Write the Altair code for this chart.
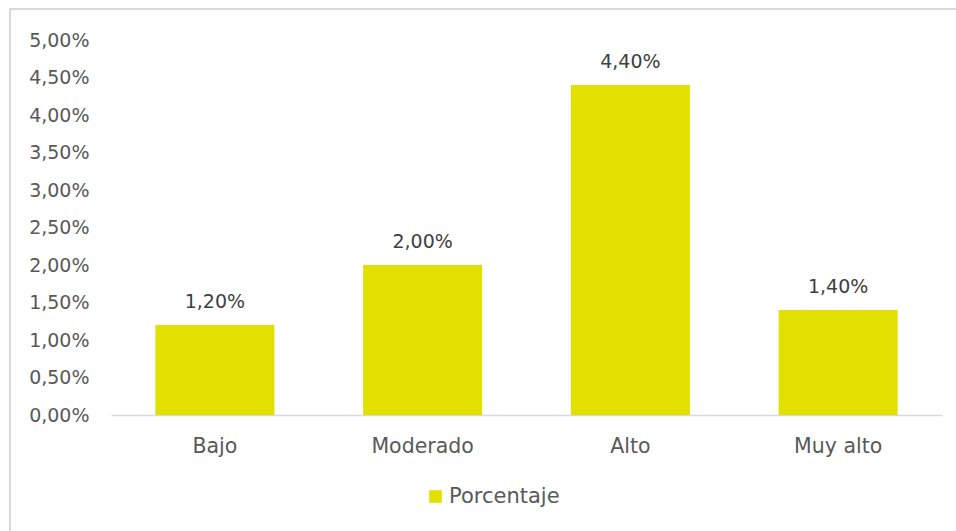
import altair as alt
import pandas as pd

categories = ["Bajo", "Moderado", "Alto", "Muy alto"]
values = [0.012, 0.020, 0.044, 0.014]
series_name = "Porcentaje"
y_ticks = [0, 0.005, 0.01, 0.015, 0.02, 0.025, 0.03, 0.035, 0.04, 0.045, 0.05]

df = pd.DataFrame({"cat": categories, "val": values, "serie": [series_name] * 4})

FONT = "DejaVu Sans"
W, H = 831, 375

y_enc = alt.Y("val:Q", title=None,
              scale=alt.Scale(domain=[0, 0.05], nice=False),
              axis=alt.Axis(values=y_ticks, grid=False, domain=False, ticks=False,
                            labelOverlap=False, labelPadding=22, labelFont=FONT,
                            labelFontSize=19, labelColor="#595959",
                            labelExpr="replace(format(datum.value, '.2%'), '.', ',')"))

base = alt.Chart(df).encode(
    x=alt.X("cat:N", sort=categories, title=None,
            scale=alt.Scale(paddingInner=0.427, paddingOuter=0.2135),
            axis=alt.Axis(labelAngle=0, ticks=False, domainColor="#D9D9D9",
                          domainWidth=1.5, labelPadding=21, labelFont=FONT,
                          labelFontSize=20.5, labelColor="#595959")),
    y=y_enc,
)

bars = base.mark_bar(color="#E1E000").encode(
    color=alt.Color("serie:N", scale=alt.Scale(range=["#E1E000"]), title=None,
                    legend=alt.Legend(orient="none", legendX=314, legendY=446,
                                      symbolType="square", symbolSize=160,
                                      symbolStrokeWidth=0, labelFont=FONT,
                                      labelFontSize=21, labelColor="#595959",
                                      labelOffset=3)),
)

labels = base.transform_calculate(
    lab="replace(format(datum.val, '.2%'), '.', ',')"
).mark_text(baseline="bottom", dy=-13, font=FONT, fontSize=19, color="#404040").encode(
    text="lab:N",
)

frame = alt.Chart(df).mark_rect(fill=None, stroke="#D9D9D9", strokeWidth=2).encode(
    x=alt.value(-101), x2=alt.value(W + 60),
    y=alt.value(-31), y2=alt.value(H + 130),
)

chart = alt.layer(frame, bars, labels).properties(
    width=W, height=H,
    autosize=alt.AutoSizeParams(type="none"),
    padding={"left": 111, "top": 40, "right": 14, "bottom": 116},
).configure(background="white").configure_view(stroke=None, strokeWidth=0)

chart.save("out.html", embed_options={"renderer": "svg", "actions": False})
